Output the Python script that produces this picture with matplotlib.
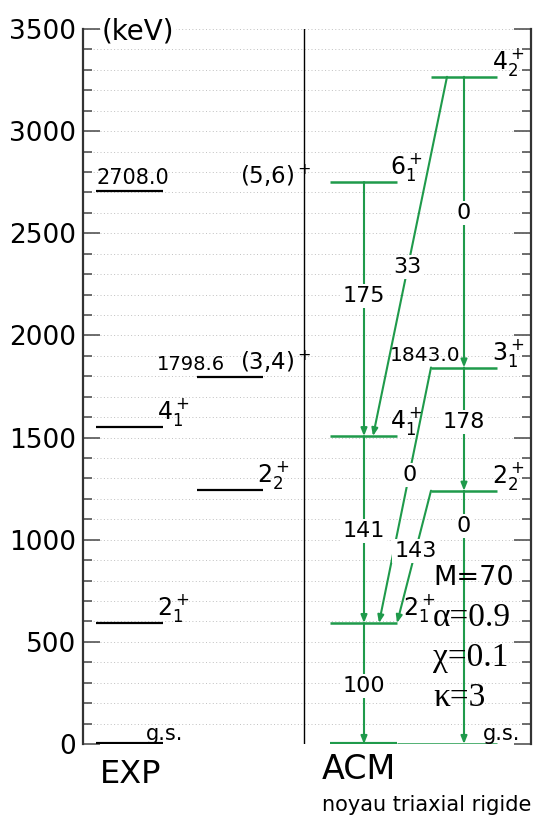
import numpy as np
import matplotlib
matplotlib.use("Agg")
import matplotlib.pyplot as plt

# experimental levels (keV)
exp_energy = [0, 592, 1552, 1243, 1798.6, 2708.0]
exp_label = ["g.s.", "$2_1^+$", "$4_1^+$", "$2_2^+$", "(3,4)$^+$", "(5,6)$^+$"]
exp_col = [0, 0, 0, 1, 1, 0]

# ACM levels (keV)
acm_energy = [0, 592, 1507, 2751, 1240, 1843.0, 3266]
acm_label = ["g.s.", "$2_1^+$", "$4_1^+$", "$6_1^+$", "$2_2^+$", "$3_1^+$", "$4_2^+$"]
acm_col = [0, 0, 0, 0, 1, 1, 1]

# transitions: (from level, to level, B(E2) value)
trans_from = [1, 2, 3, 6, 5, 4, 6, 5, 4]
trans_to = [0, 1, 2, 2, 1, 1, 5, 4, 0]
trans_val = ["100", "141", "175", "33", "0", "143", "0", "178", "0"]

params = ["M=70", "\u03b1=0.9", "\u03c7=0.1", "\u03ba=3"]

green = "#1f9a4b"

# layout (x in axis units, 0..448)
col_x = [(13, 80), (114, 180)]
acm_x = [(247, 314), (348, 414)]
div_x = 221
# arrow start/end x and label fraction for each transition
arr_x0 = [281, 281, 281, 364, 348, 348, 381, 381, 381]
arr_x1 = [281, 281, 281, 290, 296, 314, 381, 381, 381]
lab_f = [0.52, 0.51, 0.45, 0.53, 0.42, 0.455, 0.47, 0.44, 0.14]

plt.rcParams['font.family'] = 'DejaVu Sans'
plt.rcParams['mathtext.fontset'] = 'dejavusans'

fig = plt.figure(figsize=(5.37, 8.18), dpi=100)
ax = fig.add_axes([83 / 537, 74 / 818, 448 / 537, 715 / 818])
ax.set_xlim(0, 448)
ax.set_ylim(0, 3500)

ax.set_yticks(np.arange(0, 3501, 500))
ax.set_yticks(np.arange(0, 3501, 100), minor=True)
ax.set_xticks([])
ax.yaxis.grid(True, which='both', linestyle=(0, (1, 2.5)), color='#c0c0c0', lw=0.7)
ax.set_axisbelow(True)
ax.tick_params(axis='y', which='both', direction='in', left=True, right=True,
               labelright=False, colors='#555555', labelcolor='black', labelsize=19, pad=5)
ax.tick_params(axis='y', which='major', length=12.5, width=1.2)
ax.tick_params(axis='y', which='minor', length=6.5, width=1.2)
for s in ['top', 'bottom']:
    ax.spines[s].set_visible(False)
for s in ['left', 'right']:
    ax.spines[s].set_linewidth(1.6)
    ax.spines[s].set_color('#333333')

ax.text(19, 3490, "(keV)", fontsize=20, va='center', ha='left',
        bbox=dict(facecolor='white', edgecolor='none', pad=1))

ax.plot([div_x, div_x], [0, 3500], color='black', lw=1)

# EXP levels
for e, lab, c in zip(exp_energy, exp_label, exp_col):
    x0, x1 = col_x[c]
    ax.plot([x0, x1], [e, e], color='black', lw=3 if e == 0 else 1.6, solid_capstyle='butt')
    if lab == "g.s.":
        ax.text(x1 - 17, e, lab, fontsize=15, ha='left', va='bottom')
    elif lab.startswith("("):
        ax.text(157, e + 10, lab, fontsize=16.5, ha='left', va='bottom')
        ax.text(x0 if c == 0 else x0 - 40, e + 12, f"{e:.1f}",
                fontsize=15 if c == 0 else 14, ha='left', va='bottom')
    else:
        ax.text(x1 - 6, e - 5, lab, fontsize=17, ha='left', va='bottom')

# ACM levels
for i, (e, lab, c) in enumerate(zip(acm_energy, acm_label, acm_col)):
    x0, x1 = acm_x[c]
    if e == 0:
        ax.plot([x0, x1], [e, e], color=green, lw=3, solid_capstyle='butt')
        ax.plot([x1, acm_x[1][1]], [e, e], color=green, lw=1.8, solid_capstyle='butt')
        ax.text(acm_x[1][1] - 14, e, lab, fontsize=15, ha='left', va='bottom')
        continue
    ax.plot([x0, x1], [e, e], color=green, lw=1.8, solid_capstyle='butt')
    dx = 6 if lab == "$2_1^+$" else -7
    if c == 1:
        dx = -5
    ax.text(x1 + dx, e - 5, lab, fontsize=17, ha='left', va='bottom')
    if lab == "$3_1^+$":
        ax.text(x0 - 41, e + 12, f"{e:.1f}", fontsize=14.5, ha='left', va='bottom')

# transitions
for a, b, v, xa, xb, f in zip(trans_from, trans_to, trans_val, arr_x0, arr_x1, lab_f):
    ya, yb = acm_energy[a], acm_energy[b]
    ax.annotate("", xy=(xb, yb), xytext=(xa, ya),
                arrowprops=dict(arrowstyle='-|>,head_length=0.45,head_width=0.18',
                                color=green, lw=1.5, shrinkA=0, shrinkB=0))
    ax.text(xa + (xb - xa) * f, ya + (yb - ya) * f, v, fontsize=16, ha='center',
            va='center', bbox=dict(facecolor='white', edgecolor='none', pad=1.5))

# model parameters
for k, p in enumerate(params):
    fam = 'DejaVu Sans' if k == 0 else 'Liberation Serif'
    ax.text(350, 812 - k * 196, p, fontsize=19.5 if k == 0 else 24, family=fam,
            ha='left', va='center')

ax.text(17, -150, "EXP", fontsize=23, ha='left', va='center', clip_on=False)
ax.text(239, -127, "ACM", fontsize=24, ha='left', va='center', clip_on=False)
ax.text(239, -298, "noyau triaxial rigide", fontsize=15, ha='left', va='center',
        clip_on=False)

fig.savefig("out.png", dpi=100)
